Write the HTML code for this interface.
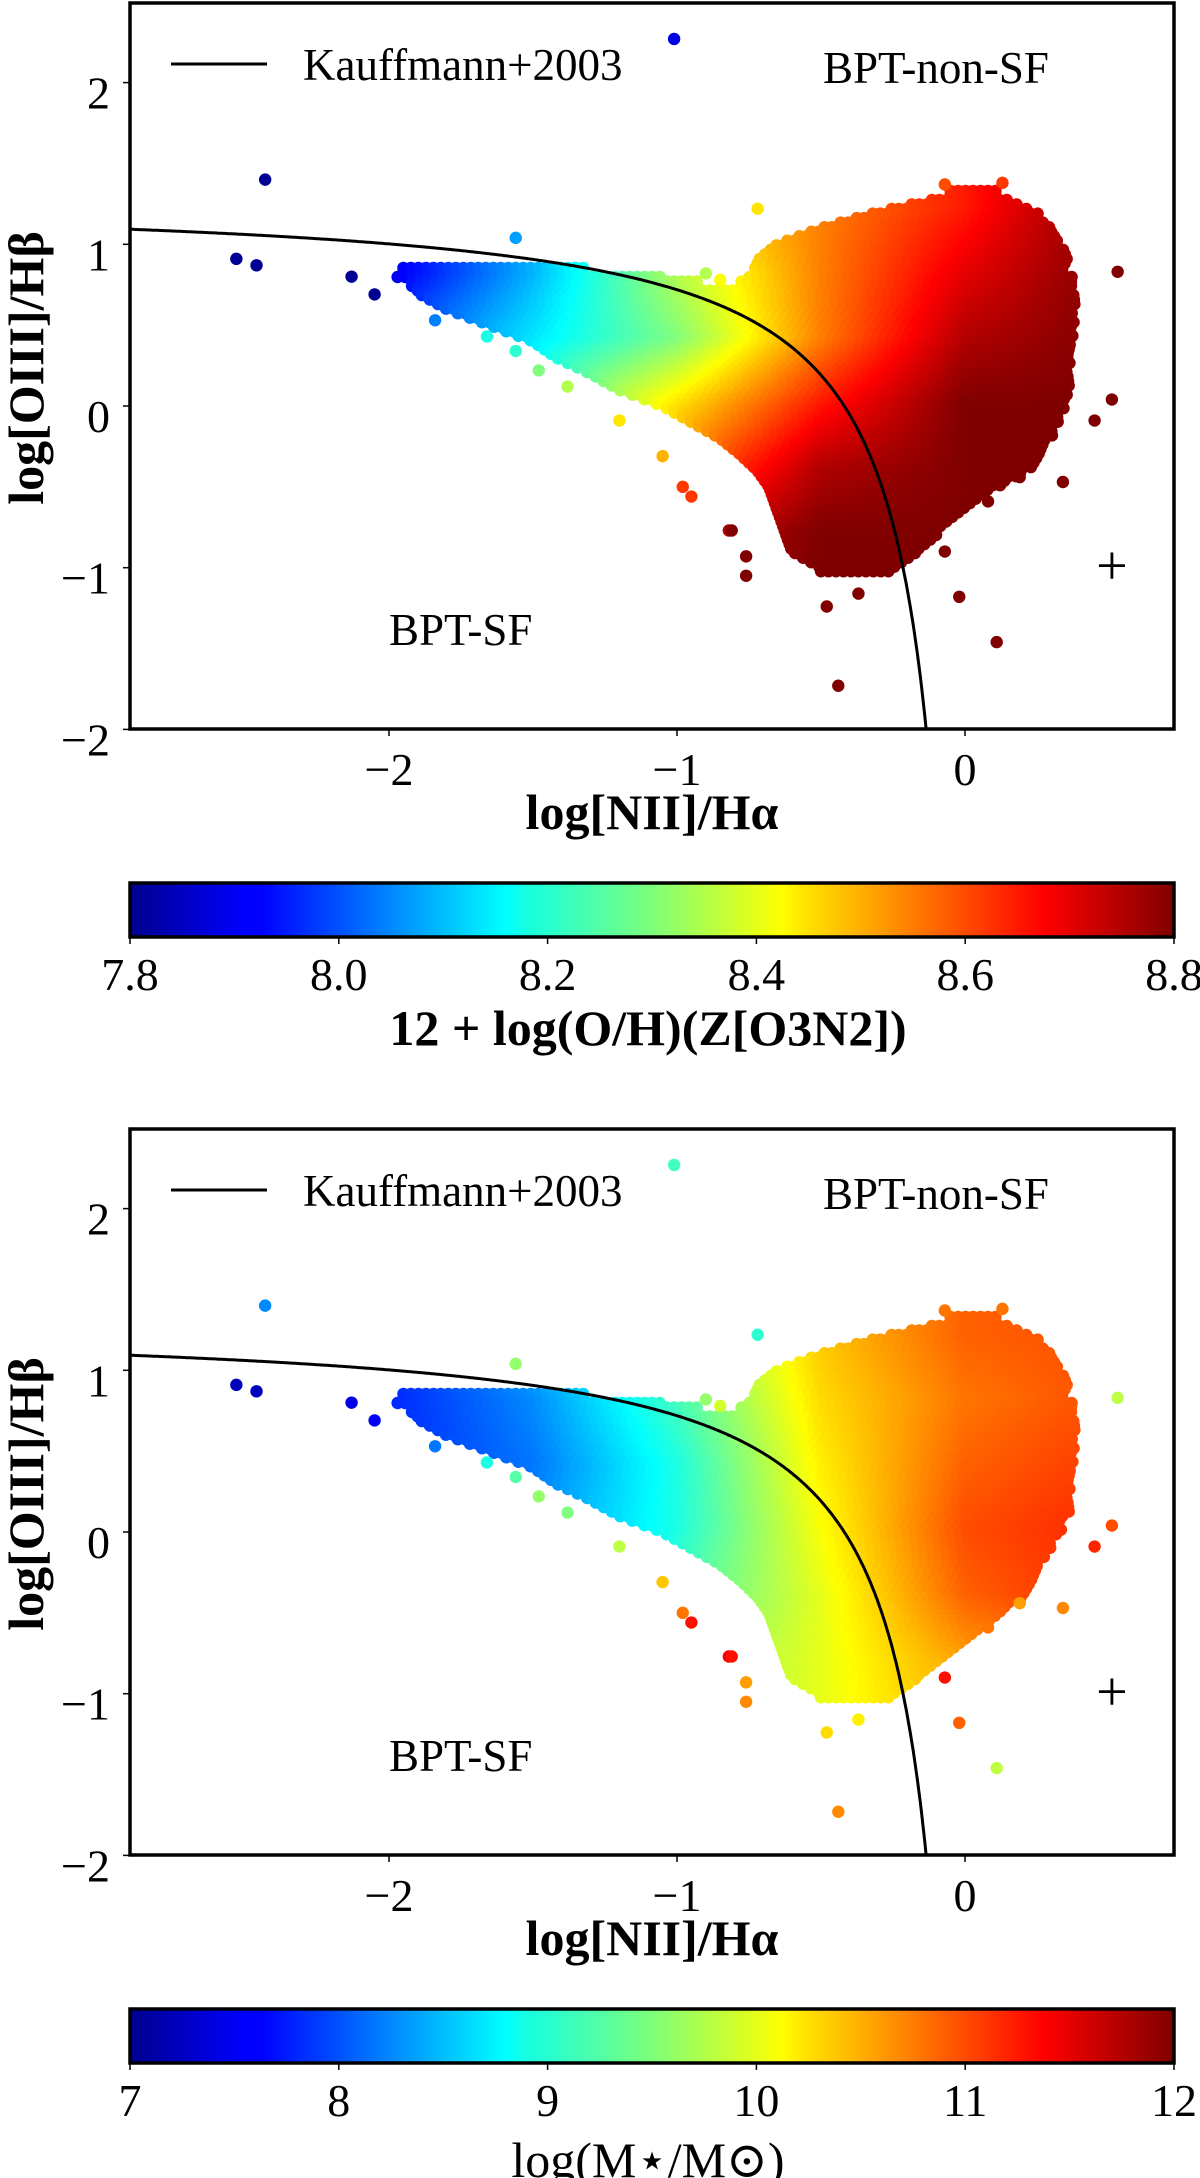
<!DOCTYPE html>
<html><head><meta charset="utf-8">
<style>
html,body{margin:0;padding:0;background:#fff;}
svg{display:block;font-family:"Liberation Serif","DejaVu Serif",serif;}
</style></head>
<body>
<svg id="fig" xmlns="http://www.w3.org/2000/svg" width="1200" height="2178" viewBox="0 0 1200 2178">
<defs>
<linearGradient id="jet" x1="0" x2="1" y1="0" y2="0">
<stop offset="0" stop-color="#00008f"/><stop offset="0.11" stop-color="#0000ff"/><stop offset="0.125" stop-color="#0000ff"/>
<stop offset="0.36" stop-color="#00ffff"/><stop offset="0.38" stop-color="#16ffe1"/><stop offset="0.5" stop-color="#7dff7a"/>
<stop offset="0.625" stop-color="#ffff00"/><stop offset="0.64" stop-color="#ffea00"/><stop offset="0.875" stop-color="#ff0000"/><stop offset="1" stop-color="#800000"/>
</linearGradient>
<clipPath id="clipTop"><rect x="130" y="3" width="1044" height="726"/></clipPath>
<clipPath id="clipBot"><rect x="130" y="1129" width="1044" height="728"/></clipPath>
</defs>
</svg>
<script>
// ---- axis ticks ----
const xTicks = [-2, -1, 0];
const xTickLabels = ["−2", "−1", "0"];
const yTicks = [2, 1, 0, -1, -2];
const yTickLabels = ["2", "1", "0", "−1", "−2"];
const cbTicksTop = [7.8, 8.0, 8.2, 8.4, 8.6, 8.8];
const cbTickLabelsTop = ["7.8", "8.0", "8.2", "8.4", "8.6", "8.8"];
const cbTicksBot = [7, 8, 9, 10, 11, 12];
const cbTickLabelsBot = ["7", "8", "9", "10", "11", "12"];

// ---- binned point cloud (top panel): row centre y, x extent, optional empty gap ----
const rowYTop    = [1.3, 1.2, 1.1, 1.0, 0.9, 0.85, 0.8, 0.75, 0.7, 0.6, 0.5, 0.4, 0.3, 0.2, 0.1, 0.0, -0.1, -0.2, -0.3, -0.4, -0.5, -0.6, -0.7, -0.8, -0.9, -1.0];
const rowXminTop = [-0.05, -0.3, -0.5, -0.65, -0.72, -1.95, -1.97, -1.92, -1.9, -1.8, -1.65, -1.5, -1.42, -1.3, -1.2, -1.05, -0.95, -0.85, -0.78, -0.72, -0.68, -0.66, -0.64, -0.62, -0.6, -0.5];
const rowXmaxTop = [0.12, 0.25, 0.3, 0.33, 0.36, 0.36, 0.37, 0.37, 0.38, 0.38, 0.38, 0.38, 0.37, 0.37, 0.36, 0.35, 0.33, 0.3, 0.27, 0.22, 0.12, 0.02, -0.05, -0.1, -0.15, -0.25];
const rowGapFromTop = [null, null, null, null, null, -1.3, -1.05, -0.92, null, null, null, null, null, null, null, null, null, null, null, null, null, null, null, null, null, null];
const rowGapToTop   = [null, null, null, null, null, -0.75, -0.75, -0.78, null, null, null, null, null, null, null, null, null, null, null, null, null, null, null, null, null, null];
// ---- binned point cloud (bottom panel) ----
const rowYBot    = [1.3, 1.2, 1.1, 1.0, 0.9, 0.85, 0.8, 0.75, 0.7, 0.6, 0.5, 0.4, 0.3, 0.2, 0.1, 0.0, -0.1, -0.2, -0.3, -0.4, -0.5, -0.6, -0.7, -0.8, -0.9, -1.0];
const rowXminBot = [-0.05, -0.3, -0.5, -0.65, -0.72, -1.95, -1.97, -1.92, -1.9, -1.8, -1.65, -1.5, -1.42, -1.3, -1.2, -1.05, -0.95, -0.85, -0.78, -0.72, -0.68, -0.66, -0.64, -0.62, -0.6, -0.5];
const rowXmaxBot = [0.12, 0.25, 0.3, 0.33, 0.36, 0.36, 0.37, 0.37, 0.38, 0.38, 0.38, 0.38, 0.37, 0.37, 0.36, 0.33, 0.3, 0.27, 0.24, 0.2, 0.12, 0.05, -0.02, -0.1, -0.15, -0.25];
const rowGapFromBot = [null, null, null, null, null, -1.3, -1.05, -0.92, null, null, null, null, null, null, null, null, null, null, null, null, null, null, null, null, null, null];
const rowGapToBot   = [null, null, null, null, null, -0.75, -0.75, -0.78, null, null, null, null, null, null, null, null, null, null, null, null, null, null, null, null, null, null];

// ---- colour value grids ----
const gridX = [-2, -1.5, -1, -0.5, 0, 0.5];
const gridY = [1.2, 0.8, 0.4, 0.0, -0.4, -0.8, -1.2];
const metalGrid = [
 [7.9, 8.1, 8.45, 8.55, 8.65, 8.8],
 [7.9, 8.1, 8.35, 8.55, 8.7, 8.8],
 [8.0, 8.15, 8.3, 8.55, 8.75, 8.8],
 [8.1, 8.25, 8.45, 8.65, 8.8, 8.8],
 [8.2, 8.35, 8.55, 8.75, 8.8, 8.8],
 [8.3, 8.5, 8.7, 8.8, 8.8, 8.8],
 [8.4, 8.6, 8.8, 8.8, 8.8, 8.8]];
const massGrid = [
 [7.8, 8.6, 9.4, 10.4, 10.9, 11.0],
 [7.8, 8.3, 9.2, 10.3, 10.8, 11.0],
 [7.8, 8.2, 9.0, 10.2, 10.9, 11.1],
 [8.0, 8.3, 9.0, 10.1, 11.0, 11.2],
 [8.2, 8.5, 9.2, 10.0, 10.9, 11.2],
 [8.5, 8.8, 9.5, 10.0, 10.6, 11.0],
 [8.8, 9.0, 9.6, 10.0, 10.5, 10.8]];

// ---- individual outliers ----
const outX = [-1.01, -2.43, -2.53, -2.46, -1.56, -0.72, -2.13, -2.05, -1.84, -1.66, -1.56, -1.48, -1.38, -1.2, -1.05, -0.98, -0.95, -0.82, -0.76, -0.76, -0.07, 0.13, 0.53, 0.51, 0.45, 0.34, -0.02, 0.11, -0.44, -0.48, -0.37, -0.81, -0.07, 0.19, 0.08, -0.9, -0.85];
const outY = [2.27, 1.40, 0.91, 0.87, 1.04, 1.22, 0.80, 0.69, 0.53, 0.43, 0.34, 0.22, 0.12, -0.09, -0.31, -0.50, -0.56, -0.77, -0.93, -1.05, 1.37, 1.38, 0.83, 0.04, -0.09, -0.47, -1.18, -1.46, -1.73, -1.24, -1.16, -0.77, -0.90, -0.44, -0.59, 0.82, 0.78];
const outZ = [7.9, 7.82, 7.82, 7.82, 8.08, 8.45, 7.82, 7.82, 8.05, 8.2, 8.22, 8.3, 8.35, 8.45, 8.5, 8.62, 8.62, 8.75, 8.8, 8.8, 8.6, 8.62, 8.8, 8.8, 8.8, 8.8, 8.8, 8.8, 8.8, 8.8, 8.8, 8.8, 8.8, 8.8, 8.8, 8.35, 8.42];
const outM = [9.2, 8.3, 7.3, 7.3, 9.6, 9.1, 7.5, 7.6, 8.2, 9.0, 9.3, 9.6, 9.5, 9.8, 10.4, 10.8, 11.3, 11.4, 10.6, 10.7, 10.8, 10.8, 9.8, 11.0, 11.2, 10.7, 10.9, 9.8, 10.7, 10.3, 10.2, 11.3, 11.3, 10.6, 10.8, 9.6, 9.9];

const NS = "http://www.w3.org/2000/svg";
const svg = document.getElementById("fig");
function el(tag, attrs, parent, text) {
  const e = document.createElementNS(NS, tag);
  for (const k in attrs) e.setAttribute(k, attrs[k]);
  if (text !== undefined) e.textContent = text;
  (parent || svg).appendChild(e);
  return e;
}
function jet(t) {
  t = Math.max(0, Math.min(1, t));
  const c = v => Math.round(255 * Math.max(0, Math.min(1, v)));
  return "rgb(" + c(1.5 - Math.abs(4 * t - 3)) + "," + c(1.5 - Math.abs(4 * t - 2)) + "," + c(1.5 - Math.abs(4 * t - 1)) + ")";
}
function gridVal(grid, x, y) {
  const cx = Math.max(0, Math.min(gridX.length - 1.0001, (x - gridX[0]) / (gridX[1] - gridX[0])));
  const cy = Math.max(0, Math.min(gridY.length - 1.0001, (gridY[0] - y) / (gridY[0] - gridY[1])));
  const i = Math.floor(cx), j = Math.floor(cy), fx = cx - i, fy = cy - j;
  const a = grid[j][i] * (1 - fx) + grid[j][i + 1] * fx;
  const b = grid[j + 1][i] * (1 - fx) + grid[j + 1][i + 1] * fx;
  return a * (1 - fy) + b * fy;
}

function panel(cfg) {
  const top = cfg.top, bottom = top + 726, left = 130, right = 1174;
  const X = v => 965 + v * 288;
  const Y = v => top + 403 - v * 161.7;
  const g = el("g", {"clip-path": "url(#" + cfg.clip + ")"});
  
  
  const [zmin, zmax] = cfg.zRange;
  const R = cfg.rowY;
  for (let y = R[0] + 0.03; y >= R[R.length - 1] - 0.04; y -= 0.028) {
    let i = 0;
    while (i < R.length - 2 && y < R[i + 1]) i++;
    let xmin, xmax, gf = null, gt = null;
    if (y >= R[0]) { xmin = cfg.rowXmin[0]; xmax = cfg.rowXmax[0]; }
    else if (y <= R[R.length - 1]) { const k = R.length - 1; xmin = cfg.rowXmin[k]; xmax = cfg.rowXmax[k]; }
    else {
      const t = (R[i] - y) / (R[i] - R[i + 1]);
      const jump = Math.abs(cfg.rowXmin[i] - cfg.rowXmin[i + 1]) > 0.5 || cfg.gapFrom[i] !== null || cfg.gapFrom[i + 1] !== null;
      if (jump) {
        const k = t < 0.5 ? i : i + 1;
        xmin = cfg.rowXmin[k]; xmax = cfg.rowXmax[k]; gf = cfg.gapFrom[k]; gt = cfg.gapTo[k];
      } else {
        xmin = cfg.rowXmin[i] * (1 - t) + cfg.rowXmin[i + 1] * t;
        xmax = cfg.rowXmax[i] * (1 - t) + cfg.rowXmax[i + 1] * t;
      }
    }
    for (let x = xmin; x <= xmax + 1e-6; x += 0.026) {
      if (gf !== null && x > gf && x < gt) continue;
      const z = gridVal(cfg.grid, x, y);
      const c = el("circle", {cx: X(x).toFixed(1), cy: Y(y).toFixed(1), r: 6.2, fill: jet((z - zmin) / (zmax - zmin))}, g);
      
      
    }
  }
  for (let k = 0; k < outX.length; k++) {
    const z = cfg.outVals[k];
    const c = el("circle", {cx: X(outX[k]), cy: Y(outY[k]), r: 6.2, fill: jet((z - zmin) / (zmax - zmin))}, g);
    
    
  }
  let d = "";
  for (let x = -2.95; x <= -0.13; x += 0.005) {
    const y = 0.61 / (x - 0.05) + 1.3;
    if (y < -2.05) break;
    d += (d ? "L" : "M") + X(x).toFixed(1) + "," + Y(y).toFixed(1);
  }
  const line = el("path", {d: d, fill: "none", stroke: "#000", "stroke-width": 3}, g);
  
  
  const fr = el("rect", {x: left, y: top, width: right - left, height: bottom - top, fill: "none", stroke: "#000", "stroke-width": 3.5});
  
  
  xTicks.forEach((v, k) => {
    el("line", {x1: X(v), x2: X(v), y1: bottom, y2: bottom + 7, stroke: "#000", "stroke-width": 1.5});
    const t = el("text", {x: X(v), y: bottom + 56, "font-size": 46, "text-anchor": "middle"}, svg, xTickLabels[k]);
    
    
  });
  yTicks.forEach((v, k) => {
    el("line", {x1: left - 7, x2: left, y1: Y(v), y2: Y(v), stroke: "#000", "stroke-width": 1.5});
    const t = el("text", {x: 110, y: Y(v) + 26, "font-size": 46, "text-anchor": "end"}, svg, yTickLabels[k]);
    
    
  });
  const p = el("text", {x: X(0.51), y: Y(-1) + 17, "font-size": 56, "text-anchor": "middle"}, svg, "+");
  
  
  el("line", {x1: 171, x2: 267, y1: top + 61, y2: top + 61, stroke: "#000", "stroke-width": 3});
  const lg = el("text", {x: 303, y: top + 77, "font-size": 45}, svg, "Kauffmann+2003");
  
  
  const ns = el("text", {x: 823, y: top + 80, "font-size": 45}, svg, "BPT-non-SF");
  
  
  const sf = el("text", {x: 389, y: top + 642, "font-size": 45}, svg, "BPT-SF");
  
  
  const xl = el("text", {x: 652, y: top + 826, "font-size": 50, "font-weight": "bold", "text-anchor": "middle"}, svg, "log[NII]/Hα");
  
  
  const yc = top + 365;
  const yl = el("text", {x: 0, y: 0, "font-size": 50, "font-weight": "bold", "text-anchor": "middle", transform: "translate(43," + yc + ") rotate(-90)"}, svg, "log[OIII]/Hβ");
  
  
  const cbTop = top + 880;
  const cb = el("rect", {x: 130, y: cbTop, width: 1044, height: 54, fill: "url(#jet)", stroke: "#000", "stroke-width": 3.5});
  
  
  cfg.cbTicks.forEach((v, k) => {
    const x = 130 + (v - zmin) / (zmax - zmin) * 1044;
    el("line", {x1: x, x2: x, y1: cbTop + 54, y2: cbTop + 61, stroke: "#000", "stroke-width": 1.5});
    const t = el("text", {x: x, y: cbTop + 107, "font-size": 46, "text-anchor": "middle"}, svg, cfg.cbLabels[k]);
    
    
  });
  const ct = el("text", {x: 648, y: cbTop + cfg.cbTitleDy, "font-size": 50, "font-weight": cfg.cbBold ? "bold" : "normal", "text-anchor": "middle"}, svg, cfg.cbTitle);
  
  
}

panel({top: 3, clip: "clipTop", prefix: "metallicity", rowY: rowYTop, rowXmin: rowXminTop, rowXmax: rowXmaxTop, gapFrom: rowGapFromTop, gapTo: rowGapToTop,
  grid: metalGrid, outVals: outZ, zRange: [7.8, 8.8], cbTicks: cbTicksTop, cbLabels: cbTickLabelsTop, cbTitle: "12 + log(O/H)(Z[O3N2])", cbTitleDy: 162, cbBold: true});
panel({top: 1129, clip: "clipBot", prefix: "mass", rowY: rowYBot, rowXmin: rowXminBot, rowXmax: rowXmaxBot, gapFrom: rowGapFromBot, gapTo: rowGapToBot,
  grid: massGrid, outVals: outM, zRange: [7, 12], cbTicks: cbTicksBot, cbLabels: cbTickLabelsBot, cbTitle: "log(M⋆/M⊙)", cbTitleDy: 168, cbBold: false});
</script>
</body></html>
